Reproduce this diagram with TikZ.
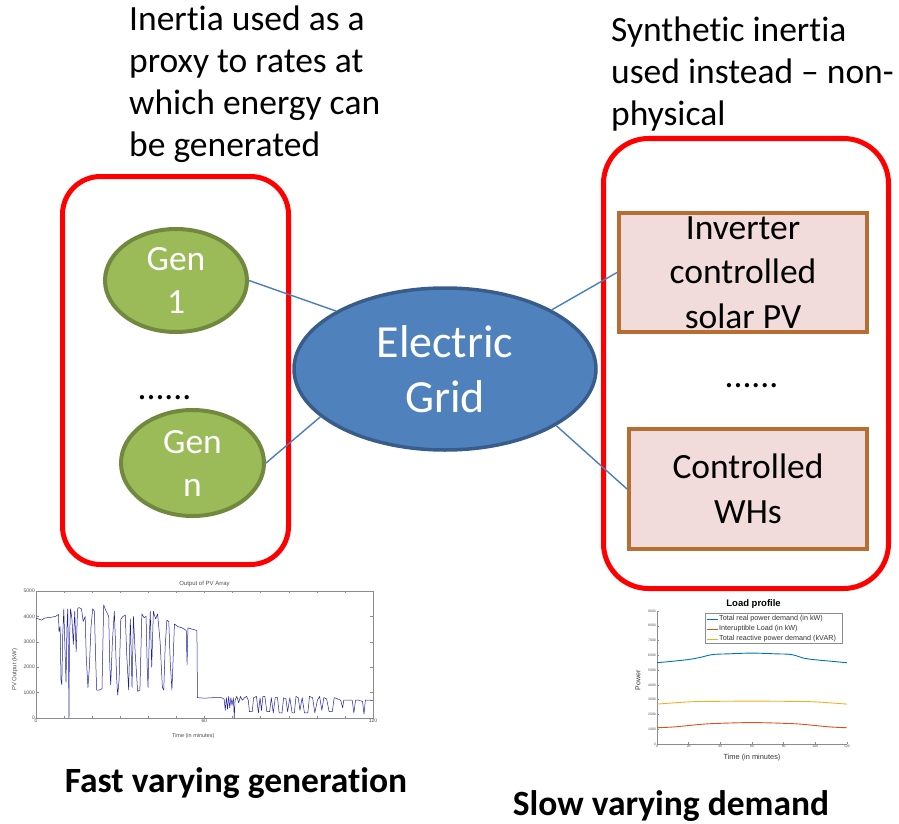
\documentclass[tikz,border=0pt]{standalone}
\usepackage{fontspec}
\setmainfont{Carlito}[Ligatures={TeX,NoCommon}]
\newfontfamily\plotfont{Liberation Sans}
\usepackage{tikz}
\usetikzlibrary{positioning, shapes.geometric}
\definecolor{genfill}{RGB}{155,187,89}
\definecolor{gendraw}{RGB}{113,137,63}
\definecolor{gridfill}{RGB}{79,129,189}
\definecolor{griddraw}{RGB}{56,93,138}
\definecolor{devfill}{RGB}{242,220,219}
\definecolor{devdraw}{RGB}{183,110,50}
\definecolor{linkblue}{RGB}{74,126,187}
\definecolor{pvblue}{RGB}{30,30,160}
\definecolor{mlblue}{RGB}{0,114,189}
\definecolor{mlorange}{RGB}{217,83,25}
\definecolor{mlyellow}{RGB}{237,177,32}

\begin{document}
\begin{tikzpicture}[x=1pt, y=-1pt,
  big/.style={font=\fontsize{35.5}{42}\selectfont},
  grp/.style={draw=red, line width=5pt, rounded corners=38pt, inner sep=0pt},
  gen/.style={ellipse, draw=gendraw, fill=genfill, line width=4pt,
              inner sep=0pt, text=white, align=center,
              font=\fontsize{35.5}{43}\selectfont},
  dev/.style={draw=devdraw, fill=devfill, line width=4pt, inner sep=0pt,
              align=center, font=\fontsize{35.5}{44.5}\selectfont},
  link/.style={draw=linkblue, line width=1.4pt},
  note/.style={big, anchor=north west, inner sep=0pt, align=left},
  caption/.style={font=\fontsize{35.5}{42}\selectfont\bfseries, anchor=base, inner sep=0pt},
  axis/.style={draw=black!45, line width=0.4pt},
  tick/.style={font=\plotfont\fontsize{5}{6}\selectfont, text=black!70, inner sep=1pt},
  legtext/.style={anchor=west, inner sep=0pt, font=\plotfont\fontsize{7.2}{8}\selectfont, text=black!80},
]
\useasboundingbox (0,0) rectangle (899,824);

\node[note] (lnote) at (129,6) {Inertia used as a\\proxy to rates at\\which energy can\\be generated};
\node[note] (rnote) at (611,17) {Synthetic inertia\\used instead -- non-\\physical};

\node[grp, minimum width=226pt, minimum height=388pt] (lgrp) at (175.5,370.5) {};
\node[grp, minimum width=285pt, minimum height=450pt, rounded corners=45pt] (rgrp) at (746,363.5) {};

\node[gen, minimum width=142pt, minimum height=103pt] (g1) at (176,280.5) {Gen\\1};
\node[gen, minimum width=143pt, minimum height=106pt] (gn) at (192.5,463) {Gen\\n};
\node[big, inner sep=0pt] (ldots) at (164.5,398) {......};

\node[ellipse, draw=griddraw, fill=gridfill, line width=3.5pt, inner sep=0pt,
      minimum width=302pt, minimum height=162pt, text=white, align=center,
      font=\fontsize{46}{55}\selectfont] (grid) at (445,369) {Electric\\Grid};

\node[dev, minimum width=248pt, minimum height=119pt] (pv) at (743,272.5) {Inverter\\controlled\\solar PV};
\node[dev, minimum width=238pt, minimum height=120pt] (wh) at (748,489) {Controlled\\WHs};
\node[big, inner sep=0pt] (rdots) at (751.5,386) {......};

\draw[link] (g1.east) -- (grid.152);
\draw[link] (gn.east) -- (grid.201);
\draw[link] (grid.29) -- (pv.west);
\draw[link] (grid.-27) -- (wh.west);

% PV output plot
\begin{scope}[shift={(36,718)}, x=2.808pt, y=25.4pt]
  \draw[axis] (0,0) rectangle (120,5);
  \foreach \t in {0,10,...,120} {
    \draw[axis] (\t,0) -- ++(0,0.08);
    \draw[axis] (\t,5) -- ++(0,-0.08);
  }
  \foreach \v in {0,...,5} {
    \pgfmathtruncatemacro\lab{\v*1000}
    \draw[axis] (0,\v) -- ++(1,0);
    \draw[axis] (120,\v) -- ++(-1,0);
    \node[tick, anchor=east] (pvy\v) at (0,\v) {\lab};
  }
  \foreach \t in {0,60,120}
    \node[tick, anchor=north] (pvx\t) at (\t,0) {\t};
  \draw[pvblue, line width=0.5pt, line join=round] plot coordinates {
    (0,3.92) (1,3.9) (2,3.85) (3,3.93) (4,3.95) (5,3.96) (6,3.98) (7,4.0) (8,4.08)
    (8.2,3.4) (8.6,3.6) (8.9,1.5) (9.2,1.3) (9.5,3.2) (9.9,4.3) (10.3,2.8) (10.7,1.4)
    (11.0,3.5) (11.3,4.3) (11.6,2.0) (11.75,0) (11.9,3.0) (12.3,4.3) (12.8,3.9)
    (13.3,2.9) (13.8,4.2) (14.3,2.6) (14.8,4.3) (15.3,4.35) (16.2,4.3) (16.8,3.8)
    (17.5,4.0) (17.9,2.4) (18.5,1.2) (19.0,2.0) (19.6,3.6) (20.2,4.3) (20.8,4.2)
    (21.2,2.5) (21.6,1.1) (22.5,1.1) (23.5,1.15) (24.1,4.45) (25,4.2) (25.9,4.0)
    (26.3,2.0) (26.6,1.3) (27.2,3.0) (27.9,4.2) (28.3,3.0) (28.7,1.6) (29.1,0.9)
    (29.6,1.5) (30.2,3.9) (31,4.0) (31.8,4.05) (32.3,2.5) (33,1.1) (33.6,3.9)
    (34.2,1.2) (34.7,4.0) (35.3,2.6) (36.2,1.05) (37.0,1.1) (37.7,4.1) (38.5,3.95)
    (39.2,4.0) (39.6,2.0) (39.9,1.2) (40.3,3.0) (40.7,4.2) (41.2,2.0) (41.8,4.2)
    (42.6,3.9) (43.3,4.1) (44.2,3.0) (45.0,1.2) (45.5,1.1) (46.0,2.8) (46.6,3.85)
    (47.3,3.8) (47.8,2.2) (48.4,1.1) (48.9,2.5) (49.3,3.7) (50.5,3.6) (52,3.55)
    (53.5,3.45) (53.8,2.1) (54.1,3.55) (55.5,3.5) (57.3,3.45) (57.5,0.8) (60,0.78)
    (63,0.8) (66,0.8) (67.0,0.75) (67.4,0.3) (67.8,0.8) (68.2,0.35) (68.6,0.85)
    (69.0,0.4) (69.4,0.8) (69.8,0.5) (70.3,0.8) (70.6,0) (70.9,0.7) (71.5,0.85)
    (72.2,0.6) (72.8,0.85) (73.5,0.7) (74.3,0.8) (75,0.85) (75.6,0.7) (76.0,0.25)
    (77.0,0.25) (77.5,0.8) (78.5,0.85) (79.2,0.2) (79.8,0.8) (80.3,0.3) (80.8,0.85)
    (81.5,0.85) (82.2,0.25) (83.2,0.25) (83.8,0.8) (84.5,0.2) (85.2,0.8) (86,0.8)
    (86.6,0.2) (87.6,0.2) (88.2,0.8) (89,0.75) (89.6,0.25) (90.4,0.8) (91.2,0.2)
    (92,0.2) (92.6,0.85) (93.4,0.8) (94,0.3) (94.8,0.8) (95.6,0.2) (96.8,0.2)
    (97.4,0.85) (98.5,0.8) (99.3,0.2) (100.2,0.7) (101,0.85) (101.8,0.3) (102.5,0.8)
    (103.5,0.75) (104.4,0.25) (105.5,0.25) (106.2,0.8) (107.5,0.75) (108.5,0.7)
    (109.2,0.4) (109.6,0.7) (111,0.7) (112.6,0.7) (113.2,0.2) (113.8,0.7) (115,0.7)
    (116.3,0.65) (116.8,0.15) (117.3,0.7) (119,0.7) (120,0.68)};
  \node[tick, font=\plotfont\fontsize{6}{7}\selectfont] (pvt) at (60,5.28) {Output of PV Array};
  \node[tick, font=\plotfont\fontsize{5.5}{6}\selectfont] (pvxl) at (56,-0.72) {Time (in minutes)};
  \node[tick, font=\plotfont\fontsize{6}{7}\selectfont, rotate=90] (pvyl) at (-7.5,1.9) {PV Output (kW)};
\end{scope}

% load profile plot
\begin{scope}[shift={(657,744)}, x=1.583pt, y=14.78pt]
  \draw[axis] (0,9) -- (0,0) -- (120,0);
  \foreach \v in {0,...,9} {
    \pgfmathtruncatemacro\lab{\v*1000}
    \draw[axis] (0,\v) -- ++(1.2,0);
    \node[tick, anchor=east, font=\plotfont\fontsize{3.4}{4}\selectfont] (ldy\v) at (0,\v) {\lab};
  }
  \foreach \t in {0,20,...,120} {
    \draw[axis] (\t,0) -- ++(0,0.12);
    \node[tick, anchor=north, font=\plotfont\fontsize{3.4}{4}\selectfont] (ldx\t) at (\t,0) {\t};
  }
  \draw[mlblue, line width=0.9pt] plot[smooth, tension=0.6] coordinates {
    (0,5.5) (10,5.6) (20,5.72) (27,5.85) (35,6.05) (45,6.1) (60,6.15) (75,6.1)
    (85,6.05) (93,5.8) (100,5.7) (110,5.6) (120,5.5)};
  \draw[mlyellow, line width=0.9pt] plot[smooth, tension=0.6] coordinates {
    (0,2.7) (10,2.78) (20,2.85) (30,2.88) (60,2.9) (90,2.88) (100,2.85) (110,2.78) (120,2.7)};
  \draw[mlorange, line width=0.9pt] plot[smooth, tension=0.6] coordinates {
    (0,1.1) (10,1.15) (20,1.25) (30,1.35) (40,1.4) (60,1.45) (80,1.4) (90,1.35)
    (100,1.25) (110,1.15) (120,1.1)};
  \node[font=\plotfont\fontsize{9.5}{11}\selectfont\bfseries, inner sep=0pt] (ldt) at (61,9.5) {Load profile};
  \node[tick, font=\plotfont\fontsize{7.4}{9}\selectfont, text=black!80] (ldxl) at (60,-0.9) {Time (in minutes)};
  \node[tick, font=\plotfont\fontsize{7}{8}\selectfont, text=black!80, rotate=90] (ldyl) at (-12,4.3) {Power};
\end{scope}
\node[draw=black!45, line width=0.4pt, fill=white, minimum width=137pt, minimum height=30pt, inner sep=0pt] (leg) at (773.5,628) {};
\draw[mlblue, line width=0.9pt] (707,619) -- (718,619);
\node[legtext] (leg1) at (719,619) {Total real power demand (in kW)};
\draw[mlorange, line width=0.9pt] (707,629) -- (718,629);
\node[legtext] (leg2) at (719,629) {Interuptible Load (in kW)};
\draw[mlyellow, line width=0.9pt] (707,639) -- (718,639);
\node[legtext] (leg3) at (719,639) {Total reactive power demand (kVAR)};

\node[caption] (fast) at (236,792) {Fast varying generation};
\node[caption] (slow) at (671,815) {Slow varying demand};
\end{tikzpicture}
\end{document}
